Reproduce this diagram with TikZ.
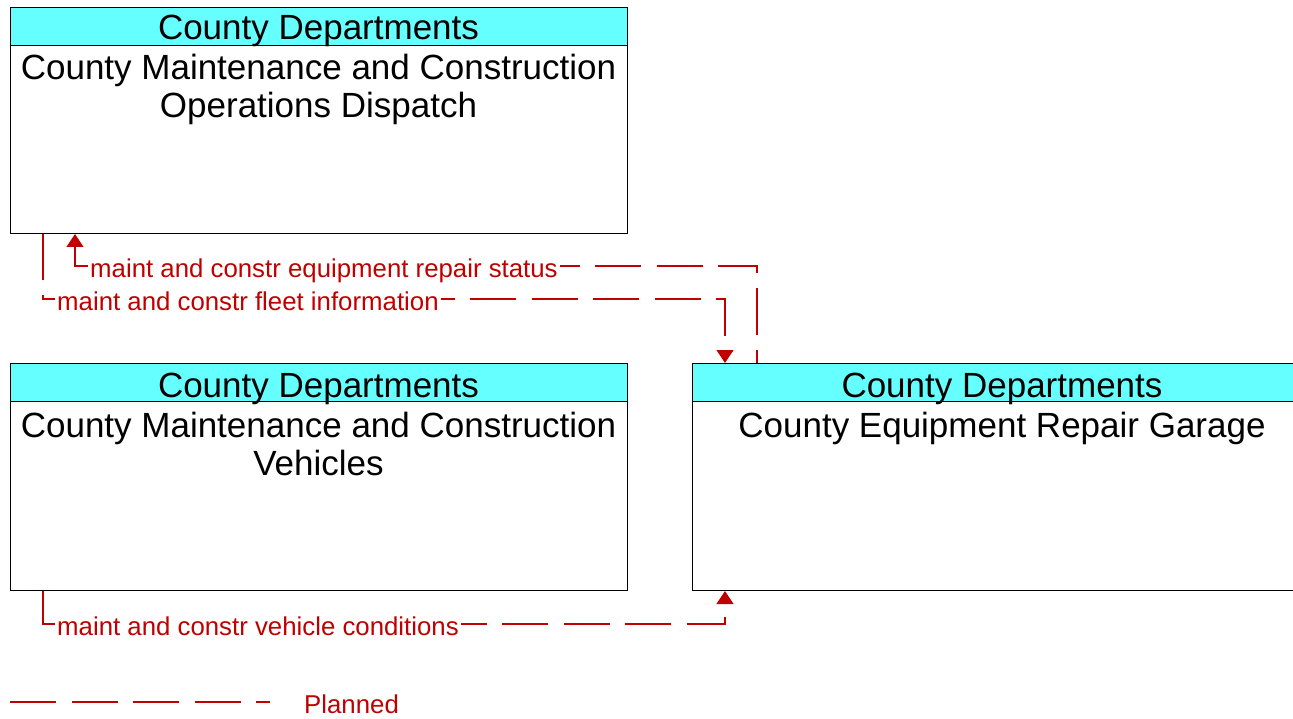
\documentclass[tikz,border=0pt]{standalone}
\usepackage{fontspec}
\setmainfont{Liberation Sans}
\usetikzlibrary{arrows.meta}
\definecolor{hdrcyan}{RGB}{102,255,255}
\definecolor{flowred}{RGB}{192,0,0}
\begin{document}
\begin{tikzpicture}[x=1pt,y=-1pt,
  box/.style={draw=black, line width=1pt, fill=white, inner sep=0pt, anchor=north west},
  hdr/.style={draw=black, line width=1pt, fill=hdrcyan, inner sep=0pt, anchor=north west, minimum height=38pt},
  big/.style={font=\fontsize{35}{38}\selectfont, inner sep=0pt},
  lbl/.style={font=\fontsize{25.8}{30}\selectfont, text=flowred, fill=white, inner xsep=2pt, inner ysep=0pt, anchor=base west},
  flow/.style={draw=flowred, line width=1.3pt, dash pattern=on 46pt off 15.5pt, -{Triangle[length=13pt,width=17pt]}},
  legline/.style={draw=flowred, line width=1.3pt, dash pattern=on 46pt off 15.5pt}
]
\useasboundingbox (0,0) rectangle (1293,719);
\clip (0,0) rectangle (1293,719);
\fill[white] (0,0) rectangle (1293,719);

% Dispatch
\node[box, minimum width=617pt, minimum height=226pt] (disp) at (10,7) {};
\node[hdr, minimum width=617pt] (disph) at (10,7) {};
\node[big, anchor=base] (dispt) at (318.5,40) {County Departments};
\node[big, anchor=base] (dispn1) at (318.5,80) {County Maintenance and Construction};
\node[big, anchor=base] (dispn2) at (318.5,118) {Operations Dispatch};

% Vehicles
\node[box, minimum width=617pt, minimum height=227pt] (veh) at (10,363) {};
\node[hdr, minimum width=617pt] (vehh) at (10,363) {};
\node[big, anchor=base] (veht) at (318.5,397) {County Departments};
\node[big, anchor=base] (vehn1) at (318.5,437) {County Maintenance and Construction};
\node[big, anchor=base] (vehn2) at (318.5,475) {Vehicles};

% Garage
\node[box, minimum width=620pt, minimum height=227pt] (gar) at (692,363) {};
\node[hdr, minimum width=620pt] (garh) at (692,363) {};
\node[big, anchor=base] (gart) at (1002,397) {County Departments};
\node[big, anchor=base] (garn1) at (1002,437) {County Equipment Repair Garage};

% Flows
\draw[flow, dash phase=33pt] ([xshift=65pt]gar.north west) -- ++(0,-97) -| ([xshift=65pt]disp.south west);
\draw[flow] ([xshift=33pt]disp.south west) -- ++(0,65) -| ([xshift=33pt]gar.north west);
\draw[flow] ([xshift=33pt]veh.south west) -- ++(0,33) -| ([xshift=33pt]gar.south west);

\node[lbl] (l1) at (88,278) {maint and constr equipment repair status};
\node[lbl] (l2) at (55,310) {maint and constr fleet information};
\node[lbl] (l3) at (55,635) {maint and constr vehicle conditions};

% Legend
\coordinate (lega) at (10,702);
\coordinate (legb) at (270,702);
\draw[legline] (lega) -- (legb);
\node[lbl, fill=none] (legt) at (302,713) {Planned};
\end{tikzpicture}
\end{document}
